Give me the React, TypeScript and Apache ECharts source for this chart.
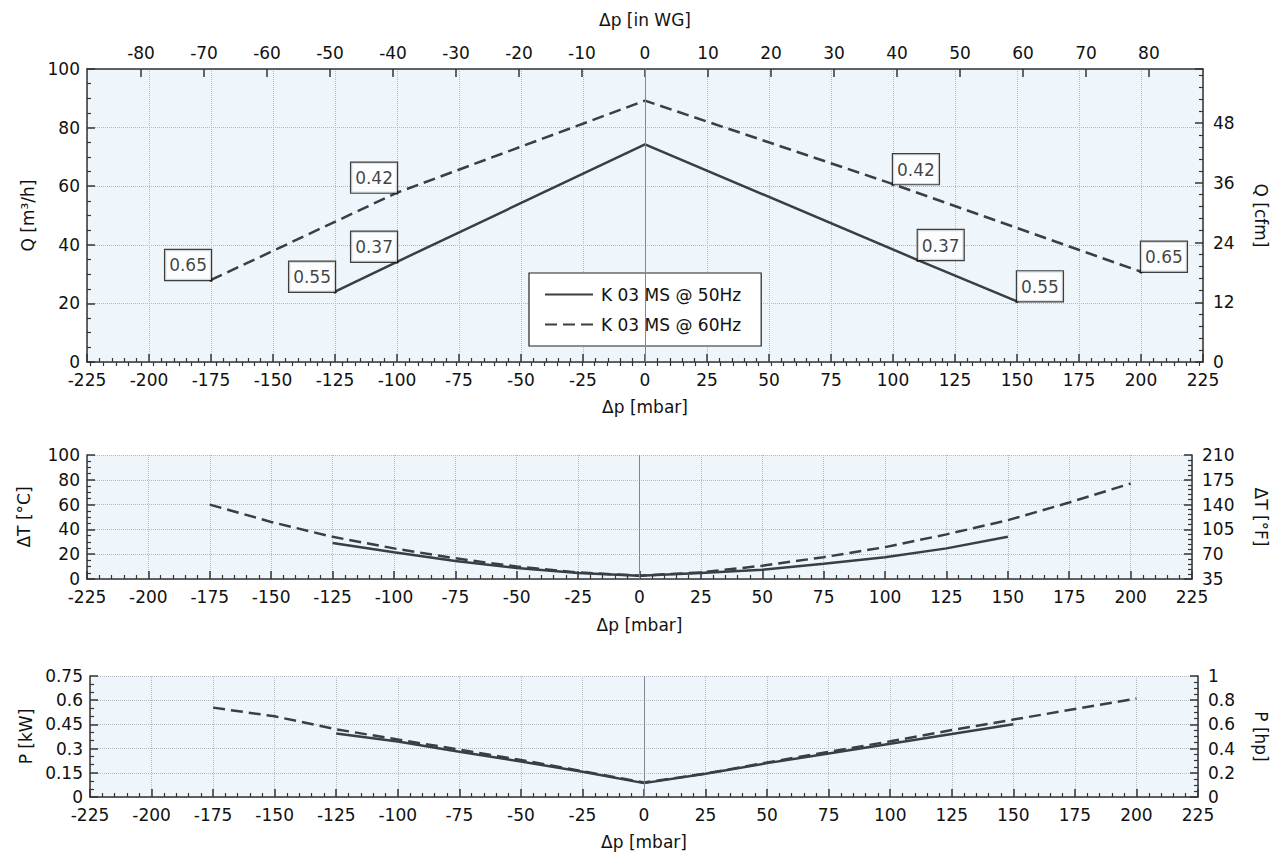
import React, { useEffect, useRef } from "react";
import * as echarts from "echarts";

// ---- Data ----
const NAME_50 = "K 03 MS @ 50Hz";
const NAME_60 = "K 03 MS @ 60Hz";

// Top chart: flow Q [m³/h] vs pressure difference [mbar]
const pressureQ50 = [-125, -100, 0, 110, 150];
const flow50 = [24, 34.2, 74.3, 34.8, 20.7];
const powerTags50 = ["0.55", "0.37", "", "0.37", "0.55"];

const pressureQ60 = [-175, -100, 0, 100, 200];
const flow60 = [28, 57.8, 89.2, 60.7, 30.8];
const powerTags60 = ["0.65", "0.42", "", "0.42", "0.65"];

// Middle chart: temperature rise ΔT [°C]
const pressureT50 = [-125, -100, -75, -50, -25, 0, 25, 50, 75, 100, 125, 150];
const tempC50 = [29, 21.5, 14.5, 8.8, 4.8, 2.7, 4.8, 7.5, 12.3, 17.6, 24.7, 34.1];
const pressureT60 = [-175, -150, -125, -100, -75, -50, -25, 0, 25, 50, 75, 100, 125, 150, 175, 200];
const tempC60 = [60, 46, 34, 24.7, 16.7, 10, 5.3, 2.7, 5.3, 10.7, 17.6, 25.7, 36, 47.4, 61.7, 77];

// Bottom chart: power P [kW]
const pressureP50 = [-125, -100, -75, -50, -25, 0, 25, 50, 75, 100, 125, 150];
const powerKw50 = [0.394, 0.344, 0.28, 0.22, 0.156, 0.086, 0.144, 0.21, 0.27, 0.33, 0.39, 0.451];
const pressureP60 = [-175, -150, -125, -100, -75, -50, -25, 0, 25, 50, 75, 100, 125, 150, 175, 200];
const powerKw60 = [0.554, 0.5, 0.42, 0.356, 0.294, 0.23, 0.16, 0.09, 0.145, 0.214, 0.28, 0.345, 0.415, 0.48, 0.545, 0.61];

// Axis settings
const mbarMin = -225;
const mbarMax = 225;
const inWgPerMbar = 0.3937;
const inWgTickLabels = [-80, -70, -60, -50, -40, -30, -20, -10, 0, 10, 20, 30, 40, 50, 60, 70, 80];
const cfmPerM3h = 0.5886;

const FONT = "DejaVu Sans";
const TEXT = "#111111";
const AXIS = "#333";
const LINE = "#3a3f45";
const GRID_BG = "#eff6fb";
const SPLIT = "#b4b9c2";

const zip = (xs: number[], ys: number[]) => xs.map((x, i) => [x, ys[i]]);

function App() {
  const ref = useRef<HTMLDivElement>(null);

  useEffect(() => {
    if (!ref.current) return;
    const chart = echarts.init(ref.current, null, { renderer: "svg" });

    const minorInWg: number[] = [];
    for (let v = -88; v <= 88; v += 2) minorInWg.push(v);

    const baseX = (gridIndex: number, nameGap: number) => ({
      type: "value",
      gridIndex,
      position: "bottom",
      min: mbarMin,
      max: mbarMax,
      interval: 25,
      name: "Δp [mbar]",
      nameLocation: "middle",
      nameGap,
      nameTextStyle: { fontSize: 17, color: TEXT, fontFamily: FONT },
      axisLine: { show: true, onZero: false, lineStyle: { color: AXIS, width: 1.5 } },
      axisTick: { show: true, inside: true, length: 8, lineStyle: { color: AXIS, width: 1.5 } },
      minorTick: { show: true, splitNumber: 5, length: 4, lineStyle: { color: AXIS, width: 1.2 } },
      axisLabel: { fontSize: 17, color: TEXT, fontFamily: FONT, margin: 9 },
      splitLine: { show: true, lineStyle: { color: SPLIT, type: "dotted", width: 1 } },
    });

    const baseY = (
      gridIndex: number,
      position: "left" | "right",
      name: string,
      nameGap: number,
      min: number,
      max: number,
      interval: number,
      minorSplit: number,
      split: boolean,
      showMax: boolean
    ) => ({
      type: "value",
      gridIndex,
      position,
      min,
      max,
      interval,
      name,
      nameLocation: "middle",
      nameGap,
      nameRotate: position === "left" ? 90 : -90,
      nameTextStyle: { fontSize: 17, color: TEXT, fontFamily: FONT },
      axisLine: { show: true, onZero: false, lineStyle: { color: AXIS, width: 1.5 } },
      axisTick: { show: true, inside: true, length: 8, lineStyle: { color: AXIS, width: 1.5 } },
      minorTick: { show: true, splitNumber: minorSplit, length: 4, lineStyle: { color: AXIS, width: 1.2 } },
      axisLabel: {
        fontSize: 17,
        lineHeight: 13,
        color: TEXT,
        fontFamily: FONT,
        margin: position === "left" ? 7 : 10,
        showMaxLabel: showMax,
      },
      splitLine: { show: split, lineStyle: { color: SPLIT, type: "dotted", width: 1 } },
    });

    const zeroLine = {
      silent: true,
      symbol: "none",
      label: { show: false },
      lineStyle: { color: "#7d8894", width: 1, type: "solid" },
      data: [{ xAxis: 0 }],
    };

    const lineSeries = (
      name: string,
      data: number[][],
      xAxisIndex: number,
      yAxisIndex: number,
      dashed: boolean,
      withZero: boolean
    ) => ({
      type: "line",
      name,
      data,
      xAxisIndex,
      yAxisIndex,
      symbol: "none",
      smooth: false,
      lineStyle: { color: LINE, width: 2.5, type: dashed ? [12, 6] : "solid" },
      itemStyle: { color: LINE },
      markLine: withZero ? zeroLine : undefined,
      z: 3,
    });

    const tagSeries = (xs: number[], ys: number[], tags: string[]) => ({
      type: "scatter",
      xAxisIndex: 0,
      yAxisIndex: 0,
      symbol: "circle",
      symbolSize: 4,
      itemStyle: { color: LINE },
      z: 4,
      data: xs
        .map((x, i) => ({
          name: tags[i],
          value: [x, ys[i]],
          label: {
            show: true,
            position: "inside",
            align: x < 0 ? "right" : "left",
            verticalAlign: "bottom",
          },
        }))
        .filter((d) => d.name !== ""),
      label: {
        show: true,
        formatter: "{b}",
        fontSize: 17,
        fontFamily: FONT,
        color: TEXT,
        backgroundColor: "#ffffff",
        borderColor: "#111",
        borderWidth: 1.2,
        padding: [5, 4, 4, 4],
        lineHeight: 21,
      },
    });

    const topMin = mbarMin * inWgPerMbar;
    const topMax = mbarMax * inWgPerMbar;

    const gridBase = { show: true, backgroundColor: GRID_BG, borderWidth: 0, containLabel: false, outerBoundsMode: "none" };

    chart.setOption({
      animation: false,
      textStyle: { fontFamily: FONT },
      grid: [
        { ...gridBase, left: 87, top: 69, width: 1116, height: 293 },
        { ...gridBase, left: 87, top: 455, width: 1105, height: 124 },
        { ...gridBase, left: 90, top: 676, width: 1108, height: 121 },
      ],
      legend: {
        data: [NAME_50, NAME_60],
        orient: "vertical",
        left: 529,
        top: 273,
        itemWidth: 48,
        itemHeight: 14,
        itemGap: 13,
        padding: [13, 20, 13, 15],
        backgroundColor: "#ffffff",
        borderColor: "#222",
        borderWidth: 1.2,
        itemStyle: { opacity: 0, color: "transparent", borderWidth: 0 },
        textStyle: { fontSize: 17, color: TEXT, fontFamily: FONT, padding: [0, 0, 0, 3] },
      },
      xAxis: [
        baseX(0, 36),
        {
          type: "value",
          gridIndex: 0,
          position: "top",
          min: topMin,
          max: topMax,
          name: "Δp [in WG]",
          nameLocation: "middle",
          nameGap: 41,
          nameTextStyle: { fontSize: 17, color: TEXT, fontFamily: FONT },
          axisLine: { show: true, onZero: false, lineStyle: { color: AXIS, width: 1.5 } },
          axisTick: { show: true, inside: true, length: 8, customValues: inWgTickLabels, lineStyle: { color: AXIS, width: 1.5 } },
          axisLabel: { show: true, customValues: inWgTickLabels, fontSize: 17, color: TEXT, fontFamily: FONT, margin: 8 },
          splitLine: { show: false },
        },
        {
          type: "value",
          gridIndex: 0,
          position: "top",
          min: topMin,
          max: topMax,
          axisLine: { show: false },
          axisTick: { show: true, inside: true, length: 4, customValues: minorInWg, lineStyle: { color: AXIS, width: 1.2 } },
          axisLabel: { show: false },
          splitLine: { show: false },
        },
        baseX(1, 37),
        baseX(2, 36),
      ],
      yAxis: [
        baseY(0, "left", "Q [m³/h]", 47, 0, 100, 20, 4, true, true),
        baseY(0, "right", "Q [cfm]", 49, 0, 100 * cfmPerM3h, 12, 5, false, false),
        baseY(1, "left", "ΔT [°C]", 55, 0, 100, 20, 4, true, true),
        baseY(1, "right", "ΔT [°F]", 60, 35, 210, 35, 5, false, true),
        baseY(2, "left", "P [kW]", 56, 0, 0.75, 0.15, 3, true, true),
        baseY(2, "right", "P [hp]", 54, 0, 1, 0.2, 4, false, true),
      ],
      series: [
        lineSeries(NAME_50, zip(pressureQ50, flow50), 0, 0, false, true),
        lineSeries(NAME_60, zip(pressureQ60, flow60), 0, 0, true, false),
        tagSeries(pressureQ50, flow50, powerTags50),
        tagSeries(pressureQ60, flow60, powerTags60),
        lineSeries(NAME_50, zip(pressureT50, tempC50), 3, 2, false, true),
        lineSeries(NAME_60, zip(pressureT60, tempC60), 3, 2, true, false),
        lineSeries(NAME_50, zip(pressureP50, powerKw50), 4, 4, false, true),
        lineSeries(NAME_60, zip(pressureP60, powerKw60), 4, 4, true, false),
      ],
    });

    return () => chart.dispose();
  }, []);

  return (
    <div
      ref={ref}
      style={{ position: "absolute", left: 0, top: 0, width: 1282, height: 854, background: "#ffffff" }}
    />
  );
}

export default App;
